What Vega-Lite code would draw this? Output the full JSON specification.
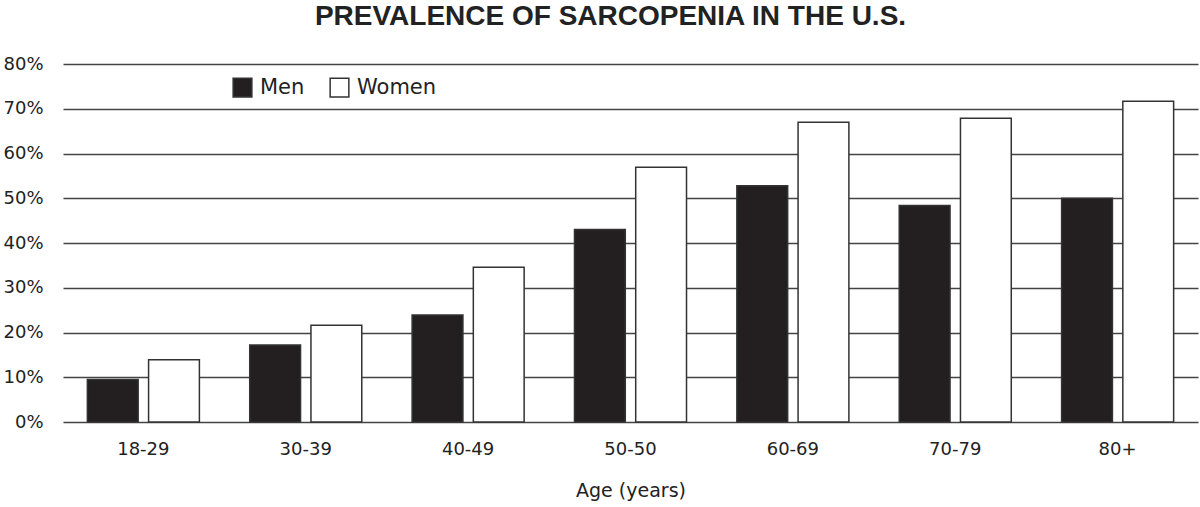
{
  "$schema": "https://vega.github.io/schema/vega-lite/v6.json",
  "width": 1135,
  "height": 358,
  "autosize": {"type": "none"},
  "padding": {"left": 63, "top": 64, "right": 2, "bottom": 85},
  "background": "white",
  "title": {
    "text": "PREVALENCE OF SARCOPENIA IN THE U.S.",
    "font": "Liberation Sans",
    "fontSize": 28,
    "fontWeight": "bold",
    "color": "#222222",
    "anchor": "middle",
    "frame": "group",
    "dx": -20,
    "offset": 24
  },
  "data": {
    "values": [
      {"age": "18-29", "sex": "Men", "value": 9.5},
      {"age": "18-29", "sex": "Women", "value": 13.9},
      {"age": "30-39", "sex": "Men", "value": 17.2},
      {"age": "30-39", "sex": "Women", "value": 21.6},
      {"age": "40-49", "sex": "Men", "value": 23.9},
      {"age": "40-49", "sex": "Women", "value": 34.6},
      {"age": "50-50", "sex": "Men", "value": 43.0},
      {"age": "50-50", "sex": "Women", "value": 56.9},
      {"age": "60-69", "sex": "Men", "value": 52.8},
      {"age": "60-69", "sex": "Women", "value": 67.0},
      {"age": "70-79", "sex": "Men", "value": 48.4},
      {"age": "70-79", "sex": "Women", "value": 67.9},
      {"age": "80+", "sex": "Men", "value": 50.0},
      {"age": "80+", "sex": "Women", "value": 71.7}
    ]
  },
  "mark": {"type": "bar", "stroke": "#333333", "strokeWidth": 1.5},
  "encoding": {
    "x": {
      "field": "age",
      "type": "nominal",
      "sort": null,
      "title": "Age (years)",
      "scale": {"paddingInner": 0.31, "paddingOuter": 0.15},
      "axis": {
        "labelAngle": 0,
        "domain": false,
        "ticks": false,
        "labelFont": "DejaVu Sans",
        "labelFontSize": 18,
        "labelColor": "#222222",
        "labelPadding": 18,
        "titleFont": "DejaVu Sans",
        "titleFontSize": 19,
        "titleFontWeight": "normal",
        "titleColor": "#222222",
        "titlePadding": 23
      }
    },
    "xOffset": {
      "field": "sex",
      "type": "nominal",
      "scale": {"paddingInner": 0.17, "paddingOuter": 0}
    },
    "y": {
      "field": "value",
      "type": "quantitative",
      "title": null,
      "scale": {"domain": [0, 80], "nice": false},
      "axis": {
        "values": [0, 10, 20, 30, 40, 50, 60, 70, 80],
        "labelExpr": "datum.value + '%'",
        "domain": false,
        "ticks": false,
        "grid": true,
        "gridColor": "#444444",
        "gridWidth": 1.5,
        "gridOpacity": 1,
        "labelFont": "DejaVu Sans",
        "labelFontSize": 18,
        "labelColor": "#222222",
        "labelPadding": 20
      }
    },
    "fill": {
      "field": "sex",
      "type": "nominal",
      "scale": {"domain": ["Men", "Women"], "range": ["#231f20", "#ffffff"]},
      "legend": {
        "title": null,
        "orient": "none",
        "legendX": 169,
        "legendY": 13,
        "direction": "horizontal",
        "symbolType": "square",
        "symbolSize": 350,
        "symbolStrokeColor": "#333333",
        "symbolStrokeWidth": 1.5,
        "symbolOpacity": 1,
        "labelFont": "DejaVu Sans",
        "labelFontSize": 21,
        "labelColor": "#222222",
        "labelOffset": 7,
        "columnPadding": 22,
        "padding": 0
      }
    }
  },
  "config": {"view": {"stroke": null}}
}
